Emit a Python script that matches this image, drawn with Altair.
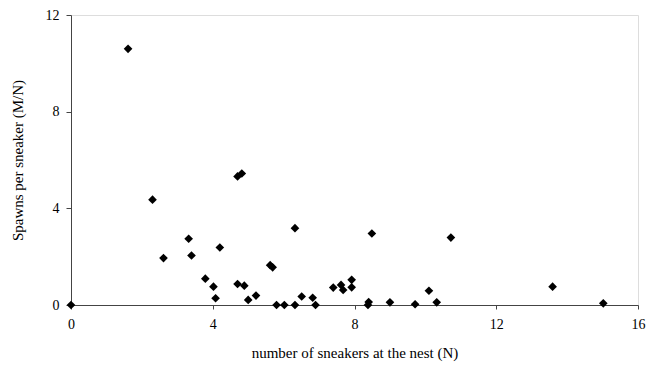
import altair as alt
import pandas as pd

sneakers = [1.61, 2.30, 2.61, 3.32, 3.40, 3.79, 4.02, 4.08, 4.20, 4.70, 4.82, 4.70, 4.89,
            5.00, 5.22, 5.62, 5.69, 5.80, 6.02, 6.32, 6.32, 6.51, 6.82, 6.90, 7.40, 7.62,
            7.68, 7.92, 7.92, 8.38, 8.40, 8.49, 9.00, 9.71, 10.10, 10.32, 10.72, 13.59,
            15.02, 0.0]
spawns = [10.6, 4.36, 1.94, 2.74, 2.05, 1.09, 0.76, 0.28, 2.38, 5.32, 5.44, 0.87, 0.80,
          0.21, 0.39, 1.65, 1.56, 0.0, 0.0, 3.18, 0.0, 0.35, 0.30, 0.0, 0.72, 0.83,
          0.62, 1.04, 0.73, 0.0, 0.12, 2.96, 0.11, 0.03, 0.59, 0.11, 2.79, 0.76,
          0.07, 0.0]
x_ticks = [0, 4, 8, 12, 16]
y_ticks = [0, 4, 8, 12]

df = pd.DataFrame({"N": sneakers, "MN": spawns})

font = "Liberation Serif"

chart = alt.Chart(df).mark_point(
    shape="diamond", filled=True, color="black", size=75, opacity=1
).encode(
    x=alt.X("N:Q", scale=alt.Scale(domain=[0, 16], nice=False, zero=True),
            axis=alt.Axis(values=x_ticks, title="number of sneakers at the nest (N)",
                          grid=False, domainColor="#444", tickColor="#444", tickSize=4,
                          labelFlush=False, labelOverlap=False,
                          labelPadding=8, titlePadding=14, labelFont=font, titleFont=font,
                          labelFontSize=14, titleFontSize=15, labelColor="black",
                          titleColor="black", titleFontWeight="normal")),
    y=alt.Y("MN:Q", scale=alt.Scale(domain=[0, 12], nice=False),
            axis=alt.Axis(values=y_ticks, title="Spawns per sneaker (M/N)",
                          grid=False, domainColor="#444", tickColor="#444", tickSize=5,
                          labelFlush=False, labelOverlap=False,
                          labelPadding=7, titlePadding=20, labelFont=font, titleFont=font,
                          labelFontSize=14, titleFontSize=15, labelColor="black",
                          titleColor="black", titleFontWeight="normal")),
).properties(
    width=567, height=290,
    padding={"left": 71, "top": 15, "right": 23, "bottom": 66},
    autosize=alt.AutoSizeParams(type="none"),
).configure_view(stroke=None).configure(background="white")

chart.save("out.html", embed_options={"renderer": "svg", "actions": False})
